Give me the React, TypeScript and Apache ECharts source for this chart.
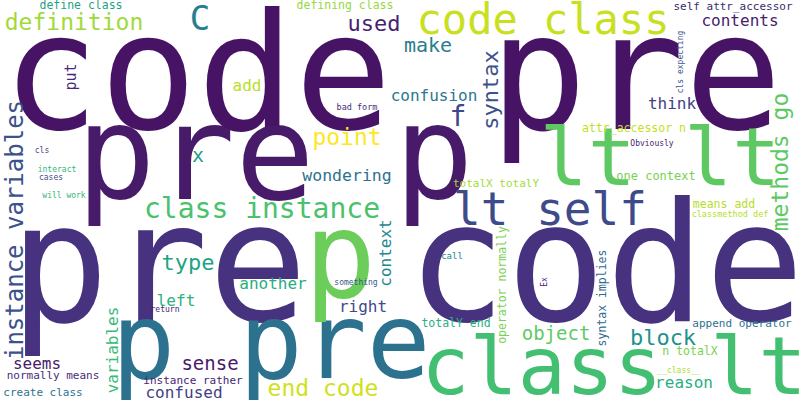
import React, { useEffect, useRef } from "react";
import * as echarts from "echarts";

const words = ["code pre","pre p","pre code","p pre","class lt","lt lt","lt self","code class","p","self attr_accessor","contents","make","confusion","f","syntax","think","methods go","cls expecting","attr_accessor n","Obviously","one context","totalX totalY","means add","classmethod def","operator normally","call","Ex","syntax implies","totalY end","object","block","append operator","n totalX","__class__","reason","define class","definition","C","defining class","used","put","add","bad form","point","x","instance variables","cls","interact","cases","will work","wondering","class instance","type","context","another","something","left","right","return","variables","seems","sense","normally means","instance rather","end code","confused","create class"];
const sizes = [162,132,165,106,80,80,46,42,120,11,16,20,16,28,22,16,23,8,11.5,8,12,11,11.5,8.5,11.5,9,8,11.5,11.5,19,22,11,11.5,8,16,11.5,23,34,11.5,22,15,16,8.5,23,20,24,8,8,8,8,16.5,28,22,16,16,8,16,16,8,16,16,19,11,11,23,16,11];
const xs = [392,275,407,271,614,660,550,543,340,733,740,428,434,458,490,672,780,680,634,652,656,496,724,730,502,452,544,602,456,556,663,742,690,679,684,81,74,200,345,374,71,247,357,347,198,15,42,57,51,64,347,262,188,385,273,356,176,363,165,112,37,210,53,193,323,184,43];
const ys = [73,153,264,341,366,157,209,19,255,6,20,45,95,116,90,103,162,62,128,143,176,183,204,214,285,256,282,298,323,333,337,323,351,370,382,5,22,18,5,23,77,85,107,137,155,230,150,169,177,195,175,208,262,253,283,282,300,306,309,350,363,363,375,380,388,392,392];
const rotations = [0,0,0,0,0,0,0,0,0,0,0,0,0,0,90,0,90,90,0,0,0,0,0,0,90,0,90,90,0,0,0,0,0,0,0,0,0,0,0,0,90,0,0,0,0,90,0,0,0,0,0,0,0,90,0,0,0,0,0,90,0,0,0,0,0,0,0];
const colors = ["#471365","#471a6a","#46327e","#2c728e","#43bf71","#5ec962","#3e4a89","#c8e020","#6ccd5a","#3b2a6b","#471d6a","#287d8e","#2a788e","#3f4889","#3b528b","#433e85","#5ec962","#39568c","#c2df23","#481f70","#7ad151","#a5db36","#b5de2b","#b5de2b","#7ad151","#25838e","#482475","#31688e","#29af7f","#5ec962","#21918c","#2c728e","#7ad151","#addc30","#29af7f","#1fa187","#a0da39","#287d8e","#95d840","#481f70","#472a7a","#bade28","#472d7b","#fde725","#1f9e89","#3b528b","#3e4a89","#35b779","#3b528b","#35b779","#2c728e","#4ac16d","#20a386","#23898e","#27ad81","#38598c","#2db27d","#3e4a89","#482475","#3aba76","#471c6d","#481a6c","#472d7b","#482475","#d0e11c","#433e85","#2c728e"];

export default function App() {
  const ref = useRef<HTMLDivElement>(null);
  useEffect(() => {
    const chart = echarts.init(ref.current!, null, { renderer: "svg" });
    const data = words.map((w, i) => ({
      value: [xs[i], ys[i]],
      name: w,
      label: {
        show: true,
        position: "inside",
        formatter: w,
        fontSize: sizes[i],
        rotate: rotations[i],
        color: colors[i],
        opacity: 1,
        fontFamily: "DejaVu Sans Mono",
      },
    }));
    chart.setOption({
      animation: false,
      backgroundColor: "#ffffff",
      grid: { left: 0, right: 0, top: 0, bottom: 0 },
      xAxis: { type: "value", min: 0, max: 800, show: false },
      yAxis: { type: "value", min: 0, max: 400, inverse: true, show: false },
      series: [
        {
          type: "scatter",
          symbolSize: 1,
          itemStyle: { color: "rgba(255,255,255,0)" },
          data,
        },
      ],
    });
    return () => chart.dispose();
  }, []);
  return <div ref={ref} style={{ position: "fixed", left: 0, top: 0, width: 800, height: 400 }} />;
}
